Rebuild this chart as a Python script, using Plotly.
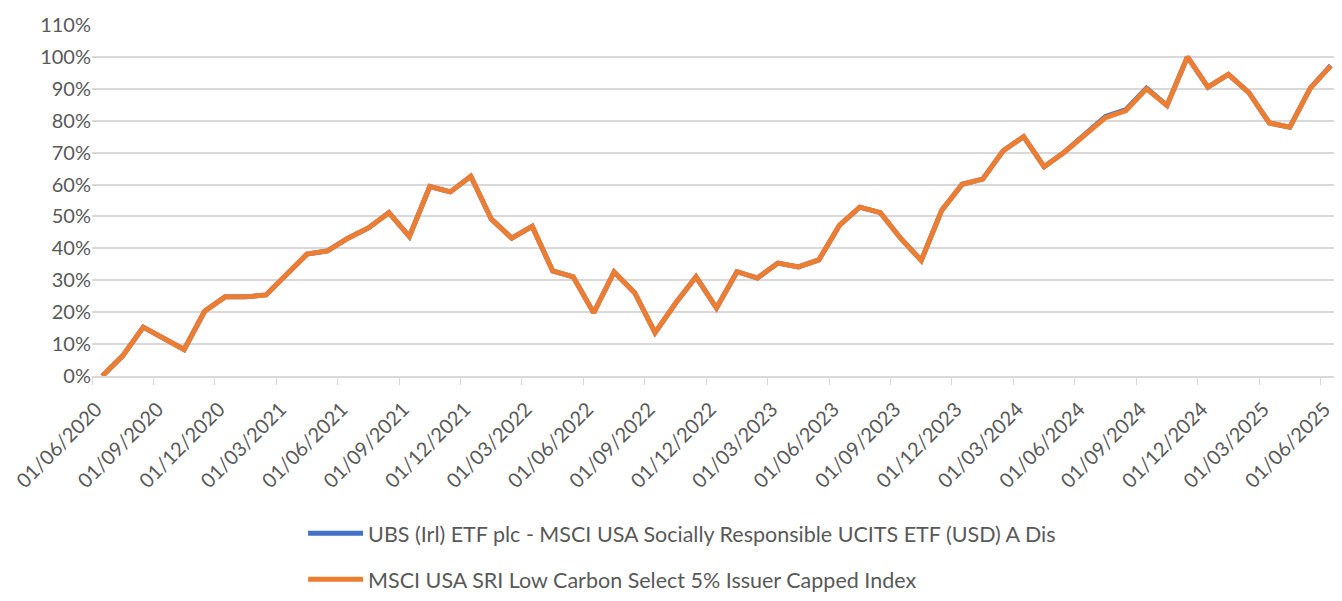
import pandas as pd
import plotly.graph_objects as go

# monthly points, 01/06/2020 .. 01/06/2025
months = pd.date_range("2020-06-01", "2025-06-01", freq="MS").strftime("%d/%m/%Y").tolist()

# cumulative performance in %
index_perf = [0, 6.3, 15.3, 11.8, 8.3, 20.3, 24.8, 24.8, 25.4, 31.8,
              38.2, 39.2, 43.2, 46.4, 51.2, 43.7, 59.4, 57.7, 62.6, 49.2,
              43.2, 46.9, 32.9, 31.1, 19.8, 32.6, 26.1, 13.6, 22.8, 31.1,
              21.3, 32.7, 30.7, 35.4, 34.2, 36.4, 47.2, 52.9, 51.2, 43.1,
              36.2, 51.9, 60.1, 61.7, 70.6, 75.0, 65.6, 70.2, 75.5, 81.0,
              83.2, 90.0, 84.8, 100.0, 90.5, 94.5, 88.8, 79.3, 78.0, 90.2,
              97.2]
fund_perf = [0, 6.3, 15.3, 11.8, 8.3, 20.3, 24.8, 24.8, 25.4, 31.8,
             38.2, 39.2, 43.2, 46.4, 51.2, 43.7, 59.4, 57.7, 62.6, 49.2,
             43.2, 46.9, 32.9, 31.1, 19.8, 32.6, 26.1, 13.6, 22.8, 31.1,
             21.3, 32.7, 30.7, 35.4, 34.2, 36.4, 47.2, 52.9, 51.2, 43.1,
             36.2, 51.9, 60.1, 61.7, 70.6, 75.0, 65.6, 70.2, 75.5, 81.3,
             83.5, 90.2, 84.8, 100.0, 90.5, 94.5, 88.8, 79.3, 78.0, 90.2,
             97.3]

fund_name = "UBS (Irl) ETF plc - MSCI USA Socially Responsible UCITS ETF (USD) A Dis"
index_name = "MSCI USA SRI Low Carbon Select 5% Issuer Capped Index"

fig = go.Figure()
fig.add_trace(go.Scatter(x=months, y=fund_perf, mode="lines", name=fund_name,
                         legendgroup="a",
                         line=dict(color="#4472C4", width=5)))
fig.add_trace(go.Scatter(x=months, y=index_perf, mode="lines", name=index_name,
                         legendgroup="b",
                         line=dict(color="#ED7D31", width=5)))

fig.update_layout(
    width=1342, height=601,
    margin=dict(l=84, r=9, t=17, b=218),
    paper_bgcolor="white", plot_bgcolor="white",
    font=dict(family="Lato", size=20, color="#595959"),
    showlegend=True,
    legend=dict(x=0.169, xanchor="left", y=-0.39, yanchor="top",
                traceorder="grouped", tracegroupgap=15,
                itemwidth=55, font=dict(size=21.5, color="#595959"),
                bgcolor="rgba(0,0,0,0)"),
)

fig.update_xaxes(
    type="category", range=[-0.5, 60.5], automargin=False,
    tickmode="linear", tick0=0, dtick=3, tickson="boundaries",
    tickangle=-45, ticks="outside", ticklen=7, tickcolor="#d9d9d9",
    ticklabelstandoff=12, ticklabelshift=-6,
    showline=True, linecolor="#d9d9d9", linewidth=1.5,
    showgrid=False, tickfont=dict(size=20, color="#595959"),
)
fig.update_yaxes(
    range=[0, 110], dtick=10, ticksuffix="%", automargin=False,
    showgrid=True, gridcolor="#d9d9d9", gridwidth=1.5,
    zeroline=False, showline=False,
    tickfont=dict(size=20, color="#595959"),
)

fig.write_html("out.html")
